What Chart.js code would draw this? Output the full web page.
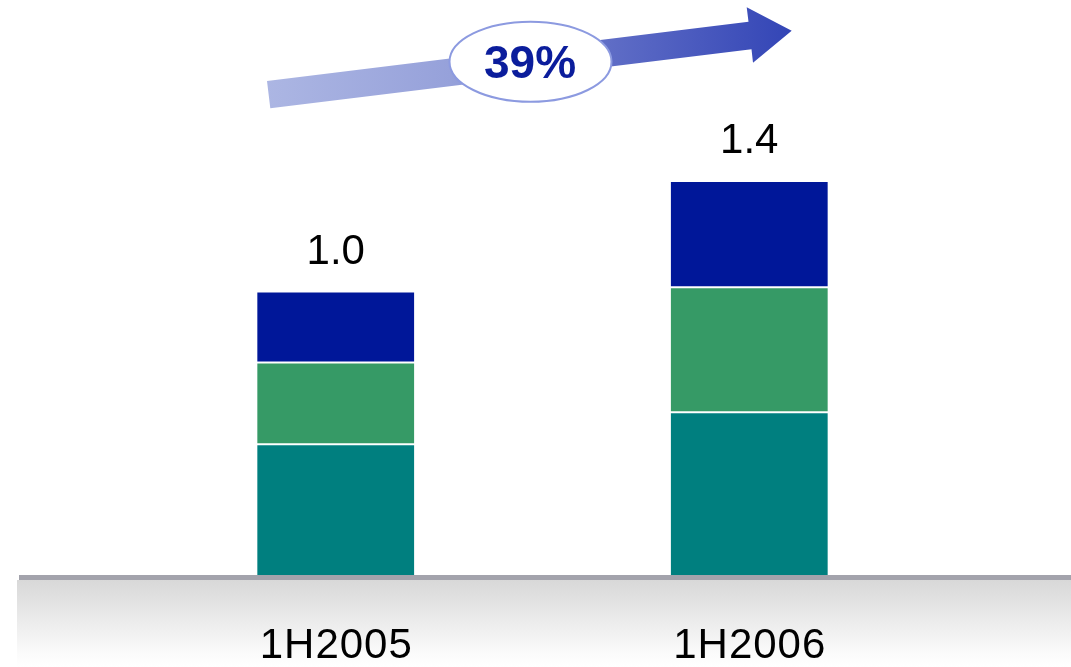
<!DOCTYPE html>
<html>
<head>
<meta charset="utf-8">
<title>1H2005 vs 1H2006</title>
<script src="https://cdn.jsdelivr.net/npm/chart.js@4/dist/chart.umd.min.js"></script>
<style>
    html, body { margin: 0; padding: 0; background: #ffffff; }
    #growthChart { display: block; }
</style>
</head>
<body>
<canvas id="growthChart" width="1071" height="667"></canvas>
<script>
// periods and stacked segments (bottom to top)
const periods = ['1H2005', '1H2006'];
const tealValues = [0.461, 0.574];
const greenValues = [0.289, 0.441];
const navyValues = [0.250, 0.375];

const FONT = '"Liberation Sans", Arial, sans-serif';

function totalAt(i) {
    return tealValues[i] + greenValues[i] + navyValues[i];
}

// grey floor under the bars with a soft fade
const floorPlugin = {
    id: 'floor',
    beforeDatasetsDraw: function (chart) {
        const ctx = chart.ctx;
        const y0 = chart.scales.y.getPixelForValue(0);
        ctx.save();
        const fade = ctx.createLinearGradient(0, y0 + 5, 0, chart.height);
        fade.addColorStop(0, '#d8d8d8');
        fade.addColorStop(0.85, '#fbfbfb');
        fade.addColorStop(1, '#ffffff');
        ctx.fillStyle = fade;
        ctx.fillRect(17, y0 + 5, chart.width - 17, chart.height - y0 - 5);
        ctx.fillStyle = '#a3a3ac';
        ctx.fillRect(19, y0, chart.width - 19, 5);
        ctx.restore();
    }
};

// totals above bars, period labels under the floor, growth arrow on top
const labelsPlugin = {
    id: 'labels',
    afterDraw: function (chart) {
        const ctx = chart.ctx;
        const x = chart.scales.x;
        const y = chart.scales.y;
        ctx.save();
        ctx.fillStyle = '#000000';
        ctx.textAlign = 'center';
        ctx.textBaseline = 'alphabetic';

        periods.forEach(function (p, i) {
            const cx = x.getPixelForValue(i);
            ctx.font = '42px ' + FONT;
            ctx.letterSpacing = '0px';
            ctx.fillText(totalAt(i).toFixed(1), cx, y.getPixelForValue(totalAt(i)) - 28);
            ctx.letterSpacing = '1px';
            ctx.fillText(p, cx + 0.5, 658);
        });
        ctx.letterSpacing = '0px';

        // arrow
        const grad = ctx.createLinearGradient(267, 0, 792, 0);
        grad.addColorStop(0, '#acb6e3');
        grad.addColorStop(0.35, '#96a1da');
        grad.addColorStop(0.65, '#5f6dc6');
        grad.addColorStop(1, '#3345b6');
        ctx.fillStyle = grad;
        ctx.beginPath();
        ctx.moveTo(267, 81);
        ctx.lineTo(748.5, 21.7);
        ctx.lineTo(746.7, 7.3);
        ctx.lineTo(791.7, 30.7);
        ctx.lineTo(753, 62.7);
        ctx.lineTo(751.5, 49.2);
        ctx.lineTo(270.3, 108.3);
        ctx.closePath();
        ctx.fill();

        // growth bubble
        const growth = Math.round((totalAt(1) / totalAt(0) - 1) * 100);
        ctx.beginPath();
        ctx.ellipse(530.5, 61.7, 81, 40, 0, 0, Math.PI * 2);
        ctx.fillStyle = '#ffffff';
        ctx.fill();
        ctx.lineWidth = 2;
        ctx.strokeStyle = '#8c9ae0';
        ctx.stroke();
        ctx.fillStyle = '#0b1d9c';
        ctx.font = 'bold 46px ' + FONT;
        ctx.fillText(growth + '%', 530, 78);
        ctx.restore();
    }
};

document.addEventListener('DOMContentLoaded', function () {

    const ctx = document.getElementById('growthChart').getContext('2d');

    const segment = function (values, color, bottom) {
        return {
            data: values,
            backgroundColor: color,
            borderColor: '#ffffff',
            borderWidth: { top: 1, bottom: bottom, left: 0, right: 0 },
            borderSkipped: false,
            barPercentage: 1,
            categoryPercentage: 0.38
        };
    };

    new Chart(ctx, {
        type: 'bar',
        data: {
            labels: periods,
            datasets: [
                segment(tealValues, '#007f7f', 0),
                segment(greenValues, '#369a66', 1),
                segment(navyValues, '#001799', 1)
            ]
        },
        options: {
            responsive: false,
            animation: false,
            layout: {
                padding: { top: 121.4, bottom: 92, left: 129, right: 115 }
            },
            plugins: {
                legend: { display: false },
                tooltip: { enabled: false }
            },
            scales: {
                x: {
                    stacked: true,
                    display: false
                },
                y: {
                    stacked: true,
                    display: false,
                    min: 0,
                    max: 1.6
                }
            }
        },
        plugins: [floorPlugin, labelsPlugin]
    });

});
</script>
</body>
</html>
